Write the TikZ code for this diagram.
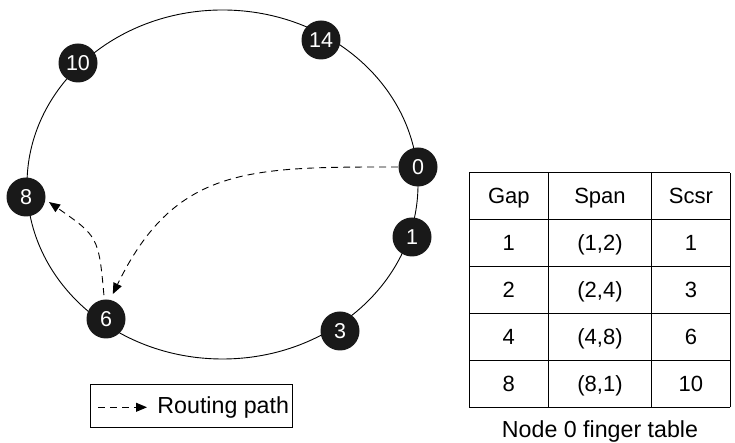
\documentclass[tikz,border=0pt]{standalone}
\usepackage{fontspec}
\setmainfont{Liberation Sans}
\usetikzlibrary{arrows.meta}
\tikzset{
  peer/.style={circle, fill=black!90, text=white, minimum size=39pt, inner sep=0pt, font=\fontsize{21.5}{24}\selectfont},
  route/.style={dash pattern=on 7pt off 5pt, line width=0.9pt, -{Triangle[length=11pt,width=9pt]}},
  cell/.style={anchor=base, inner sep=0pt, font=\fontsize{22}{26}\selectfont},
  caption/.style={inner sep=0pt, font=\fontsize{23.2}{27}\selectfont},
}
\begin{document}
\begin{tikzpicture}[x=1pt, y=1pt, line width=0.9pt]
	\useasboundingbox (0,0) rectangle (735,443);
	% ring
	\draw (222.5,258.5) ellipse [x radius=195.5pt, y radius=174.5pt];
	\node[peer] (n14) at (321,403) {14};
	\node[peer] (n10) at (78,380) {10};
	\node[peer] (n8) at (26,246) {8};
	\node[peer] (n0) at (418,276) {0};
	\node[peer] (n1) at (412,206) {1};
	\node[peer] (n6) at (106,124) {6};
	\node[peer] (n3) at (340,112) {3};
	% routing
	\draw[route, shorten >=6pt] (n0.west) to[out=180, in=64, looseness=1.2] (n6.78);
	\draw[route, shorten <=4pt, shorten >=4pt] (n6.95) to[out=95, in=-35, looseness=1.4] (n8.-8);
	% legend
	\draw (90.7,15.7) rectangle (292.3,59);
	\coordinate (legA) at (98,35.7);
	\coordinate (legB) at (147,35.7);
	\draw[route] (legA) -- (legB);
	\node[caption, anchor=base west] (legtext) at (157,29.7) {Routing path};
	% finger table
	\foreach \y in {270.3,223.7,176.3,129.7,82.3,35.7}
		\draw (469.3,\y) -- (730,\y);
	\foreach \x in {469.3,548.3,651.7,730}
		\draw (\x,35.7) -- (\x,270.3);
	\foreach \colA/\colB/\colC [count=\r] in {Gap/Span/Scsr, 1/{(1,2)}/1, 2/{(2,4)}/3, 4/{(4,8)}/6, 8/{(8,1)}/10} {
		\node[cell] (t-\r-1) at (508.8,{247-46.9*(\r-1)-7.9}) {\colA};
		\node[cell] (t-\r-2) at (600,{247-46.9*(\r-1)-7.9}) {\colB};
		\node[cell] (t-\r-3) at (690.9,{247-46.9*(\r-1)-7.9}) {\colC};
	}
	\node[caption, anchor=base] (tcap) at (600,5.5) {Node 0 finger table};
\end{tikzpicture}
\end{document}
